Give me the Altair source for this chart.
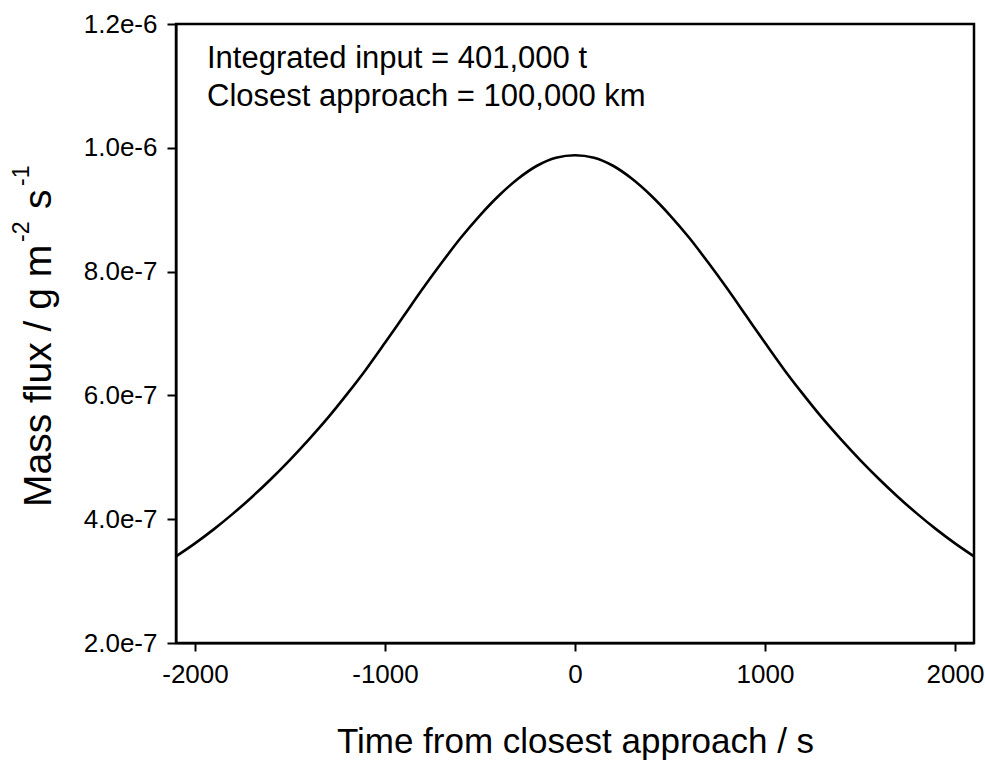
import altair as alt
import pandas as pd

# Data
time_s = [-2100, -2000, -1900, -1800, -1700, -1600, -1500, -1400, -1300, -1200, -1100,
          -1000, -900, -800, -700, -600, -500, -400, -300, -200, -100, 0,
          100, 200, 300, 400, 500, 600, 700, 800, 900, 1000,
          1100, 1200, 1300, 1400, 1500, 1600, 1700, 1800, 1900, 2000, 2100]
mass_flux = [3.40e-7, 3.61e-7, 3.84e-7, 4.09e-7, 4.36e-7, 4.65e-7, 4.96e-7, 5.29e-7, 5.64e-7, 6.02e-7, 6.42e-7,
             6.85e-7, 7.29e-7, 7.73e-7, 8.15e-7, 8.55e-7, 8.91e-7, 9.23e-7, 9.50e-7, 9.71e-7, 9.84e-7, 9.88e-7,
             9.84e-7, 9.71e-7, 9.50e-7, 9.23e-7, 8.91e-7, 8.55e-7, 8.15e-7, 7.73e-7, 7.29e-7, 6.85e-7,
             6.42e-7, 6.02e-7, 5.64e-7, 5.29e-7, 4.96e-7, 4.65e-7, 4.36e-7, 4.09e-7, 3.84e-7, 3.61e-7, 3.40e-7]

x_ticks = [-2000, -1000, 0, 1000, 2000]
y_ticks = [2e-7, 4e-7, 6e-7, 8e-7, 1.0e-6, 1.2e-6]

annotation_lines = ["Integrated input = 401,000 t", "Closest approach = 100,000 km"]
y_title_parts = ["Mass flux / g m", "-2", "s", "-1"]
x_title = "Time from closest approach / s"

FONT = "Liberation Sans"

df = pd.DataFrame({"t": time_s, "flux": mass_flux})

x_enc = alt.X(
    "t:Q",
    scale=alt.Scale(domain=[-2100, 2100], nice=False, zero=False),
    axis=alt.Axis(
        values=x_ticks, labelExpr="toString(datum.value)", title=x_title,
        titleFontSize=35, titleFont=FONT, titleFontWeight="normal", titleColor="black",
        titleBaseline="alphabetic", titleY=109,
        labelFontSize=26, labelFont=FONT, labelColor="black", labelPadding=10,
        tickSize=8, tickWidth=2, tickColor="black",
        domainColor="black", domainWidth=2, grid=False, labelFlush=False,
    ),
)
y_enc = alt.Y(
    "flux:Q",
    scale=alt.Scale(domain=[2e-7, 1.2e-6], nice=False, zero=False),
    axis=alt.Axis(
        values=y_ticks, format=".1e", title=None,
        labelFontSize=26, labelFont=FONT, labelColor="black", labelPadding=10,
        tickSize=9, tickWidth=2, tickColor="black",
        domainColor="black", domainWidth=2, grid=False, labelFlush=False,
    ),
)

line = alt.Chart(df).mark_line(color="black", strokeWidth=2.6, interpolate="monotone").encode(
    x=x_enc, y=y_enc
)

ann1 = alt.Chart().mark_text(
    text=annotation_lines[0], font=FONT, fontSize=31, color="black", align="left", baseline="alphabetic"
).encode(x=alt.value(31), y=alt.value(44))
ann2 = alt.Chart().mark_text(
    text=annotation_lines[1], font=FONT, fontSize=31, color="black", align="left", baseline="alphabetic"
).encode(x=alt.value(31), y=alt.value(82))

def ytitle(text, x, y, size):
    return alt.Chart().mark_text(
        text=text, font=FONT, fontSize=size, color="black", align="left",
        baseline="alphabetic", angle=270
    ).encode(x=alt.value(x), y=alt.value(y))

yt1 = ytitle(y_title_parts[0], -125, 483, 39)
yt2 = ytitle(y_title_parts[1], -147, 218, 23)
yt3 = ytitle(y_title_parts[2], -125, 185, 39)
yt4 = ytitle(y_title_parts[3], -147, 162, 23)

chart = alt.layer(line, ann1, ann2, yt1, yt2, yt3, yt4).properties(
    width=798, height=619,
    padding={"left": 176, "top": 24, "right": 11, "bottom": 119},
    autosize=alt.AutoSizeParams(type="none"),
    background="white",
).configure_view(stroke="black", strokeWidth=2.5)

chart.save("out.html", embed_options={"renderer": "svg", "actions": False})
